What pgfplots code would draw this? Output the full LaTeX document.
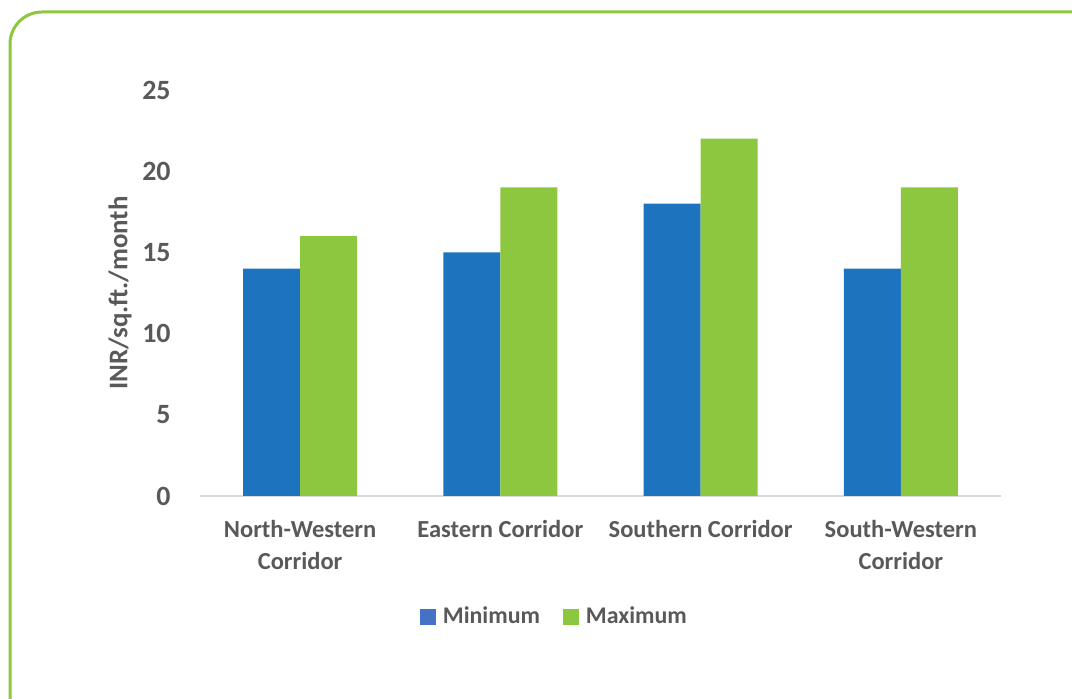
\documentclass[border=0pt]{standalone}
\usepackage{fontspec}
\setmainfont{Carlito}
\usepackage{pgfplots}
\pgfplotsset{compat=1.18}
\definecolor{barblue}{HTML}{1E73BE}
\definecolor{bargreen}{HTML}{8DC63F}
\definecolor{legblue}{HTML}{4472C4}
\definecolor{txt}{HTML}{595959}
\definecolor{axgray}{HTML}{D9D9D9}
\begin{document}
\begin{tikzpicture}
\useasboundingbox (0,0) rectangle (536bp,349.5bp);
\draw[bargreen, line width=1.5bp, rounded corners=16bp] (5bp,-20bp) rectangle (560bp,343.5bp);
\begin{axis}[
  at={(100bp,101.5bp)}, anchor=south west,
  scale only axis, width=400.5bp, height=203bp,
  xmin=-0.5, xmax=3.5, ymin=0, ymax=25,
  ybar, bar width=28.5bp,
  axis lines*=left, axis line style={-},
  x axis line style={axgray, line width=1.2bp},
  y axis line style={draw=none},
  major tick length=0pt,
  ytick={0,5,10,15,20,25},
  xtick={0,1,2,3},
  xticklabels={North-Western\\Corridor, Eastern Corridor, Southern Corridor, South-Western\\Corridor},
  /pgf/number format/assume math mode=true,
  yticklabel style={font=\fontsize{14}{16}\selectfont\bfseries, text=txt, anchor=east, inner sep=0pt, xshift=-14.5bp},
  xticklabel style={font=\fontsize{12.3}{16}\selectfont\bfseries, text=txt, align=center, anchor=north, inner sep=0pt, yshift=-12bp},
  ylabel={INR/sq.ft./month},
  ylabel style={at={(axis description cs:-0.0999,0.5)}, anchor=center, font=\fontsize{13.5}{15}\selectfont\bfseries, text=txt},
  legend style={at={(0.4457,-0.298)}, anchor=center, draw=none, fill=none, legend columns=2,
    font=\fontsize{12}{14}\selectfont\bfseries, text=txt,
    /tikz/every even column/.append style={column sep=8bp},
    nodes={inner ysep=1.5bp, inner xsep=3.5bp}},
  legend image code/.code={\fill[#1] (0bp,-3.75bp) rectangle (7.5bp,3.75bp);},
]
\addplot[fill=barblue, draw=none, bar shift=-14.25bp, forget plot] coordinates {(0,14) (1,15) (2,18) (3,14)};
\addplot[fill=bargreen, draw=none, bar shift=14.25bp, forget plot] coordinates {(0,16) (1,19) (2,22) (3,19)};
\addlegendimage{legblue}
\addlegendentry{Minimum}
\addlegendimage{bargreen}
\addlegendentry{Maximum}
\end{axis}
\end{tikzpicture}
\end{document}
